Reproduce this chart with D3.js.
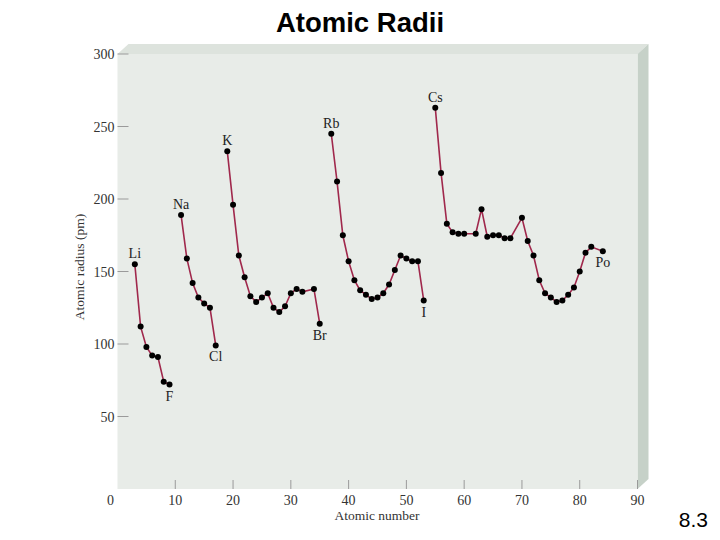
<!DOCTYPE html>
<html>
<head>
<meta charset="utf-8">
<script src="https://cdn.jsdelivr.net/npm/d3@7"></script>
<style>
  html, body { margin: 0; padding: 0; background: #ffffff; }
  svg { display: block; }
</style>
</head>
<body>
<svg id="chart" width="720" height="540"></svg>
<script>
// ---- Data ----
const period2Z = [3, 4, 5, 6, 7, 8, 9];
const period2R = [155, 112, 98, 92, 91, 74, 72];

const period3Z = [11, 12, 13, 14, 15, 16, 17];
const period3R = [189, 159, 142, 132, 128, 125, 99];

const period4Z = [19, 20, 21, 22, 23, 24, 25, 26, 27, 28, 29, 30, 31, 32, 34, 35];
const period4R = [233, 196, 161, 146, 133, 129, 132, 135, 125, 122, 126, 135, 138, 136, 138, 114];

const period5Z = [37, 38, 39, 40, 41, 42, 43, 44, 45, 46, 47, 48, 49, 50, 51, 52, 53];
const period5R = [245, 212, 175, 157, 144, 137, 134, 131, 132, 135, 141, 151, 161, 159, 157, 157, 130];

const period6Z = [55, 56, 57, 58, 59, 60, 62, 63, 64, 65, 66, 67, 68, 70, 71, 72, 73, 74, 75, 76, 77, 78, 79, 80, 81, 82, 84];
const period6R = [263, 218, 183, 177, 176, 176, 176, 193, 174, 175, 175, 173, 173, 187, 171, 161, 144, 135, 132, 129, 130, 134, 139, 150, 163, 167, 164];

const labelNames = ["Li", "F", "Na", "Cl", "K", "Br", "Rb", "I", "Cs", "Po"];
const labelZ     = [3, 9, 11, 17, 19, 35, 37, 53, 55, 84];
const labelSide  = ["above", "below", "above", "below", "above", "below", "above", "below", "above", "below"];

const xTicks = [10, 20, 30, 40, 50, 60, 70, 80, 90];
const yTicks = [50, 100, 150, 200, 250, 300];

const titleText = "Atomic Radii";
const slideNumber = "8.3";
const xTitle = "Atomic number";
const yTitle = "Atomic radius (pm)";

// ---- Layout ----
const svg = d3.select("#chart");
const x = d3.scaleLinear().domain([0, 90]).range([117.5, 637.5]);
const y = d3.scaleLinear().domain([0, 300]).range([489, 54]);
const depthX = 11, depthY = -10;

const periods = [
  period2Z.map((z, i) => ({ z, r: period2R[i] })),
  period3Z.map((z, i) => ({ z, r: period3R[i] })),
  period4Z.map((z, i) => ({ z, r: period4R[i] })),
  period5Z.map((z, i) => ({ z, r: period5R[i] })),
  period6Z.map((z, i) => ({ z, r: period6R[i] }))
];
const allPts = periods.flat();

// Title
svg.append("text")
  .attr("x", 360).attr("y", 32)
  .attr("text-anchor", "middle")
  .attr("font-family", "Liberation Sans, Arial, sans-serif")
  .attr("font-size", 27.5)
  .attr("font-weight", "bold")
  .attr("fill", "#000")
  .text(titleText);

// 3D panel
const x0 = x(0), x1 = x(90), yT = y(300), yB = y(0);
const g = svg.append("g");
g.append("polygon")
  .attr("points", [[x0, yT], [x0 + depthX, yT + depthY], [x1 + depthX, yT + depthY], [x1, yT]].map(p => p.join(",")).join(" "))
  .attr("fill", "#dde3dd");
g.append("polygon")
  .attr("points", [[x1, yT], [x1 + depthX, yT + depthY], [x1 + depthX, yB + depthY], [x1, yB]].map(p => p.join(",")).join(" "))
  .attr("fill", "#c6d1c8");
g.append("rect")
  .attr("x", x0).attr("y", yT)
  .attr("width", x1 - x0).attr("height", yB - yT)
  .attr("fill", "#e8ece8");

const serif = "Liberation Serif, Times New Roman, serif";

// Y axis ticks and labels
const yAxisG = svg.append("g");
yAxisG.selectAll("line.yt").data(yTicks).enter().append("line")
  .attr("x1", x0).attr("x2", x0 + 11)
  .attr("y1", d => y(d)).attr("y2", d => y(d))
  .attr("stroke", "#9a9a9a").attr("stroke-width", 1);
yAxisG.selectAll("text.yl").data(yTicks).enter().append("text")
  .attr("x", x0 - 3).attr("y", d => y(d) + 5)
  .attr("text-anchor", "end")
  .attr("font-family", serif).attr("font-size", 14)
  .attr("fill", "#333")
  .text(d => d);

// X axis ticks and labels
const xAxisG = svg.append("g");
xAxisG.selectAll("line.xt").data(xTicks).enter().append("line")
  .attr("x1", d => x(d)).attr("x2", d => x(d))
  .attr("y1", yB).attr("y2", yB - 9)
  .attr("stroke", "#9a9a9a").attr("stroke-width", 1);
xAxisG.selectAll("text.xl").data([0].concat(xTicks)).enter().append("text")
  .attr("x", d => d === 0 ? x(d) - 7 : x(d))
  .attr("y", yB + 16)
  .attr("text-anchor", "middle")
  .attr("font-family", serif).attr("font-size", 14)
  .attr("fill", "#333")
  .text(d => d);

// Axis titles
svg.append("text")
  .attr("x", 377).attr("y", 520)
  .attr("text-anchor", "middle")
  .attr("font-family", serif).attr("font-size", 13.5)
  .attr("fill", "#333")
  .text(xTitle);
svg.append("text")
  .attr("transform", "translate(84," + 267 + ") rotate(-90)")
  .attr("text-anchor", "middle")
  .attr("font-family", serif).attr("font-size", 13.5)
  .attr("fill", "#333")
  .text(yTitle);

// Lines
const line = d3.line().x(d => x(d.z)).y(d => y(d.r));
svg.append("g").selectAll("path").data(periods).enter().append("path")
  .attr("d", line)
  .attr("fill", "none")
  .attr("stroke", "#a0284c")
  .attr("stroke-width", 1.6);

// Points
svg.append("g").selectAll("circle").data(allPts).enter().append("circle")
  .attr("cx", d => x(d.z)).attr("cy", d => y(d.r))
  .attr("r", 3).attr("fill", "#000");

// Element labels
const lookup = new Map(allPts.map(p => [p.z, p.r]));
svg.append("g").selectAll("text").data(labelNames).enter().append("text")
  .attr("x", (d, i) => x(labelZ[i]))
  .attr("y", (d, i) => y(lookup.get(labelZ[i])) + (labelSide[i] === "above" ? -6 : 16))
  .attr("text-anchor", "middle")
  .attr("font-family", serif).attr("font-size", 14)
  .attr("fill", "#222")
  .text(d => d);

// Slide number
svg.append("text")
  .attr("x", 708).attr("y", 527)
  .attr("text-anchor", "end")
  .attr("font-family", "Liberation Sans, Arial, sans-serif")
  .attr("font-size", 21)
  .attr("fill", "#000")
  .text(slideNumber);
</script>
</body>
</html>
